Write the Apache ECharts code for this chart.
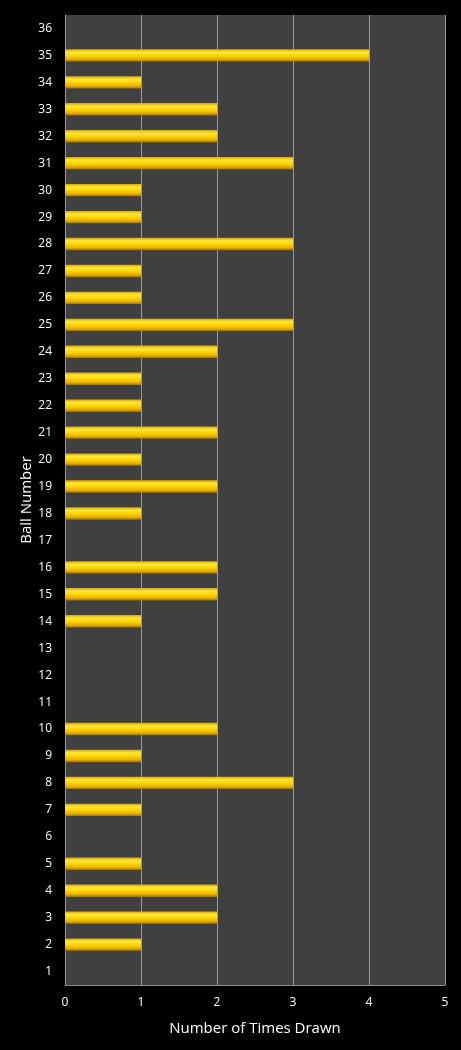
<!DOCTYPE html>
<html><head><meta charset="utf-8">
<script src="https://cdn.jsdelivr.net/npm/echarts@6/dist/echarts.min.js"></script>
<style>html,body{margin:0;padding:0;background:#000;}#c{width:461px;height:1050px;}</style>
</head><body><div id="c"></div>
<script>
const balls = ['1','2','3','4','5','6','7','8','9','10','11','12','13','14','15','16','17','18','19','20','21','22','23','24','25','26','27','28','29','30','31','32','33','34','35','36'];
const timesDrawn = [0,1,2,2,1,0,1,3,1,2,0,0,0,1,2,2,0,1,2,1,2,1,1,2,3,1,1,3,1,1,3,2,2,1,4,0];
const xTicks = [0,1,2,3,4,5];
const yTitle = 'Ball Number';

const chart = echarts.init(document.getElementById('c'));
const font = 'Open Sans, Liberation Sans, sans-serif';
chart.setOption({
  backgroundColor: '#000000',
  animation: false,
  grid: {left: 65, right: 16, top: 15, bottom: 65, backgroundColor: '#404040', show: true, borderWidth: 0},
  graphic: [{
    type: 'text', x: 27, y: 500, rotation: Math.PI / 2,
    style: {text: yTitle, fill: '#ffffff', fontSize: 15, fontFamily: font, align: 'center', verticalAlign: 'middle'}
  }],
  xAxis: {
    type: 'value', min: xTicks[0], max: xTicks[xTicks.length-1], interval: 1,
    name: 'Number of Times Drawn', nameLocation: 'middle', nameGap: 36,
    nameTextStyle: {color: '#ffffff', fontSize: 15, fontFamily: font},
    axisLine: {show: true, lineStyle: {color: '#8c8c8c', width: 1}},
    axisTick: {show: false},
    axisLabel: {color: '#ffffff', fontSize: 12, fontFamily: font, margin: 12},
    splitLine: {show: true, lineStyle: {color: '#9a9a9a', width: 1}}
  },
  yAxis: {
    type: 'category', data: balls,
    axisLine: {show: true, lineStyle: {color: '#9a9a9a'}},
    axisTick: {show: false},
    axisLabel: {color: '#ffffff', fontSize: 12, fontFamily: font, margin: 13},
    splitLine: {show: false}
  },
  series: [{
    type: 'bar', data: timesDrawn, barWidth: '46%',
    itemStyle: {
      color: new echarts.graphic.LinearGradient(0,0,0,1,[
        {offset:0, color:'#d9a800'},
        {offset:0.25, color:'#ffe83a'},
        {offset:0.5, color:'#ffd600'},
        {offset:0.8, color:'#e6b000'},
        {offset:1, color:'#a07200'}
      ]),
      borderWidth: 0
    }
  }]
});
</script></body></html>
